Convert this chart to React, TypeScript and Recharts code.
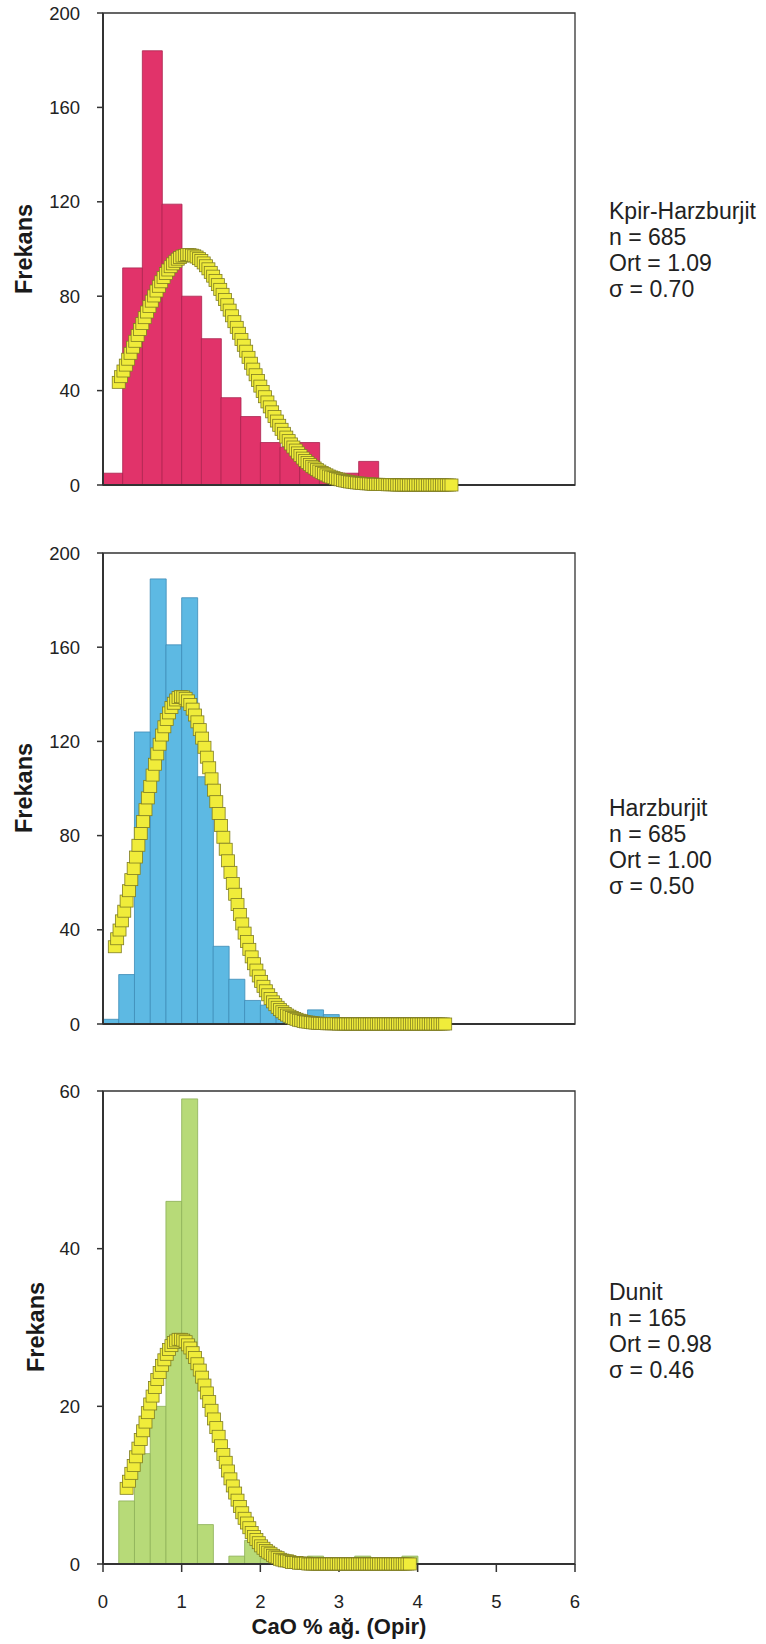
import React from 'react';
import { ComposedChart, Bar, Scatter, XAxis, YAxis, ReferenceArea } from 'recharts';

// ---------- tick labels ----------
const xTicks = [0, 1, 2, 3, 4, 5, 6];
const yTicks200 = [0, 40, 80, 120, 160, 200];
const yTicks60 = [0, 20, 40, 60];

// ---------- Kpir-Harzburjit (bin width 0.25) ----------
const kpirBins = [0.125, 0.375, 0.625, 0.875, 1.125, 1.375, 1.625, 1.875, 2.125, 2.375, 2.625, 2.875, 3.125, 3.375];
const kpirCounts = [5, 92, 184, 119, 80, 62, 37, 29, 18, 16, 18, 4, 5, 10];
const kpirCurve = [
  [0.20, 43.5], [0.23, 45.9], [0.26, 48.3], [0.29, 50.8], [0.32, 53.3], [0.35, 55.8], [0.38, 58.4], [0.41, 60.9],
  [0.44, 63.4], [0.47, 65.9], [0.50, 68.4], [0.53, 70.9], [0.56, 73.3], [0.59, 75.6], [0.62, 77.9], [0.65, 80.1],
  [0.68, 82.2], [0.71, 84.2], [0.74, 86.1], [0.77, 87.9], [0.80, 89.6], [0.83, 91.1], [0.86, 92.5], [0.89, 93.7],
  [0.92, 94.8], [0.95, 95.7], [0.98, 96.4], [1.01, 97.0], [1.04, 97.3], [1.07, 97.6], [1.10, 97.6], [1.13, 97.4],
  [1.16, 97.1], [1.19, 96.6], [1.22, 95.9], [1.25, 95.1], [1.28, 94.1], [1.31, 92.9], [1.34, 91.6], [1.37, 90.1],
  [1.40, 88.5], [1.43, 86.7], [1.46, 84.9], [1.49, 82.9], [1.52, 80.8], [1.55, 78.6], [1.58, 76.4], [1.61, 74.1],
  [1.64, 71.7], [1.67, 69.2], [1.70, 66.8], [1.73, 64.3], [1.76, 61.7], [1.79, 59.2], [1.82, 56.7], [1.85, 54.1],
  [1.88, 51.6], [1.91, 49.1], [1.94, 46.7], [1.97, 44.3], [2.00, 41.9], [2.03, 39.6], [2.06, 37.4], [2.09, 35.2],
  [2.12, 33.1], [2.15, 31.0], [2.18, 29.0], [2.21, 27.1], [2.24, 25.3], [2.27, 23.6], [2.30, 21.9], [2.33, 20.3],
  [2.36, 18.8], [2.39, 17.4], [2.42, 16.1], [2.45, 14.8], [2.48, 13.6], [2.51, 12.5], [2.54, 11.4], [2.57, 10.4],
  [2.60, 9.5], [2.63, 8.7], [2.66, 7.9], [2.69, 7.2], [2.72, 6.5], [2.75, 5.9], [2.78, 5.3], [2.81, 4.8],
  [2.84, 4.3], [2.87, 3.8], [2.90, 3.4], [2.93, 3.1], [2.96, 2.8], [2.99, 2.5], [3.02, 2.2], [3.05, 1.9],
  [3.08, 1.7], [3.11, 1.5], [3.14, 1.3], [3.17, 1.2], [3.20, 1.0], [3.23, 0.9], [3.26, 0.8], [3.29, 0.7],
  [3.32, 0.6], [3.35, 0.5], [3.38, 0.5], [3.41, 0.4], [3.44, 0.3], [3.47, 0.3], [3.50, 0.3], [3.53, 0.2],
  [3.56, 0.2], [3.59, 0.2], [3.62, 0.1], [3.65, 0.1], [3.68, 0.1], [3.71, 0.1], [3.74, 0], [3.77, 0],
  [3.80, 0], [3.83, 0], [3.86, 0], [3.89, 0], [3.92, 0], [3.95, 0], [3.98, 0], [4.01, 0],
  [4.04, 0], [4.07, 0], [4.10, 0], [4.13, 0], [4.16, 0], [4.19, 0], [4.22, 0], [4.25, 0],
  [4.28, 0], [4.31, 0], [4.34, 0], [4.37, 0], [4.40, 0], [4.43, 0],
];

// ---------- Harzburjit (bin width 0.2) ----------
const harzBins = [0.1, 0.3, 0.5, 0.7, 0.9, 1.1, 1.3, 1.5, 1.7, 1.9, 2.1, 2.3, 2.5, 2.7, 2.9];
const harzCounts = [2, 21, 124, 189, 161, 181, 105, 33, 19, 10, 8, 4, 2, 6, 4];
const harzCurve = [
  [0.15, 32.8], [0.18, 36.2], [0.21, 39.9], [0.24, 43.8], [0.27, 47.9], [0.30, 52.2], [0.33, 56.6], [0.36, 61.3],
  [0.39, 66.0], [0.42, 70.9], [0.45, 75.9], [0.48, 80.9], [0.51, 86.0], [0.54, 91.0], [0.57, 96.0], [0.60, 100.9],
  [0.63, 105.7], [0.66, 110.3], [0.69, 114.7], [0.72, 118.8], [0.75, 122.7], [0.78, 126.2], [0.81, 129.3], [0.84, 132.1],
  [0.87, 134.4], [0.90, 136.2], [0.93, 137.6], [0.96, 138.6], [0.99, 139.0], [1.02, 138.9], [1.05, 138.3], [1.08, 137.2],
  [1.11, 135.7], [1.14, 133.7], [1.17, 131.2], [1.20, 128.3], [1.23, 125.0], [1.26, 121.4], [1.29, 117.5], [1.32, 113.3],
  [1.35, 108.8], [1.38, 104.1], [1.41, 99.3], [1.44, 94.4], [1.47, 89.4], [1.50, 84.3], [1.53, 79.3], [1.56, 74.2],
  [1.59, 69.3], [1.62, 64.4], [1.65, 59.7], [1.68, 55.1], [1.71, 50.7], [1.74, 46.5], [1.77, 42.5], [1.80, 38.6],
  [1.83, 35.0], [1.86, 31.7], [1.89, 28.5], [1.92, 25.6], [1.95, 22.9], [1.98, 20.4], [2.01, 18.1], [2.04, 16.0],
  [2.07, 14.1], [2.10, 12.4], [2.13, 10.8], [2.16, 9.4], [2.19, 8.2], [2.22, 7.1], [2.25, 6.1], [2.28, 5.2],
  [2.31, 4.5], [2.34, 3.8], [2.37, 3.3], [2.40, 2.8], [2.43, 2.3], [2.46, 2.0], [2.49, 1.6], [2.52, 1.4],
  [2.55, 1.1], [2.58, 0.9], [2.61, 0.8], [2.64, 0.6], [2.67, 0.5], [2.70, 0.4], [2.73, 0.3], [2.76, 0.3],
  [2.79, 0.2], [2.82, 0.2], [2.85, 0.1], [2.88, 0.1], [2.91, 0.1], [2.94, 0.1], [2.97, 0.1], [3.00, 0],
  [3.03, 0], [3.06, 0], [3.09, 0], [3.12, 0], [3.15, 0], [3.18, 0], [3.21, 0], [3.24, 0],
  [3.27, 0], [3.30, 0], [3.33, 0], [3.36, 0], [3.39, 0], [3.42, 0], [3.45, 0], [3.48, 0],
  [3.51, 0], [3.54, 0], [3.57, 0], [3.60, 0], [3.63, 0], [3.66, 0], [3.69, 0], [3.72, 0],
  [3.75, 0], [3.78, 0], [3.81, 0], [3.84, 0], [3.87, 0], [3.90, 0], [3.93, 0], [3.96, 0],
  [3.99, 0], [4.02, 0], [4.05, 0], [4.08, 0], [4.11, 0], [4.14, 0], [4.17, 0], [4.20, 0],
  [4.23, 0], [4.26, 0], [4.29, 0], [4.32, 0], [4.35, 0],
];

// ---------- Dunit (bin width 0.2) ----------
const dunitBins = [0.1, 0.3, 0.5, 0.7, 0.9, 1.1, 1.3, 1.5, 1.7, 1.9, 2.1, 2.3, 2.5, 2.7, 2.9, 3.1, 3.3, 3.5, 3.7, 3.9];
const dunitCounts = [0, 8, 14, 20, 46, 59, 5, 0, 1, 3, 1, 0, 0, 1, 0, 0, 1, 0, 0, 1];
const dunitCurve = [
  [0.30, 9.6], [0.33, 10.5], [0.36, 11.5], [0.39, 12.5], [0.42, 13.6], [0.45, 14.7], [0.48, 15.8], [0.51, 16.9],
  [0.54, 18.0], [0.57, 19.2], [0.60, 20.3], [0.63, 21.3], [0.66, 22.4], [0.69, 23.4], [0.72, 24.3], [0.75, 25.2],
  [0.78, 25.9], [0.81, 26.6], [0.84, 27.2], [0.87, 27.7], [0.90, 28.1], [0.93, 28.3], [0.96, 28.5], [0.99, 28.5],
  [1.02, 28.4], [1.05, 28.2], [1.08, 27.8], [1.11, 27.4], [1.14, 26.8], [1.17, 26.2], [1.20, 25.4], [1.23, 24.6],
  [1.26, 23.7], [1.29, 22.7], [1.32, 21.7], [1.35, 20.6], [1.38, 19.5], [1.41, 18.4], [1.44, 17.3], [1.47, 16.2],
  [1.50, 15.0], [1.53, 13.9], [1.56, 12.9], [1.59, 11.8], [1.62, 10.8], [1.65, 9.9], [1.68, 9.0], [1.71, 8.1],
  [1.74, 7.3], [1.77, 6.5], [1.80, 5.8], [1.83, 5.2], [1.86, 4.6], [1.89, 4.0], [1.92, 3.5], [1.95, 3.1],
  [1.98, 2.7], [2.01, 2.3], [2.04, 2.0], [2.07, 1.7], [2.10, 1.5], [2.13, 1.3], [2.16, 1.1], [2.19, 0.9],
  [2.22, 0.8], [2.25, 0.6], [2.28, 0.5], [2.31, 0.4], [2.34, 0.4], [2.37, 0.3], [2.40, 0.2], [2.43, 0.2],
  [2.46, 0.2], [2.49, 0.1], [2.52, 0.1], [2.55, 0.1], [2.58, 0.1], [2.61, 0], [2.64, 0], [2.67, 0],
  [2.70, 0], [2.73, 0], [2.76, 0], [2.79, 0], [2.82, 0], [2.85, 0], [2.88, 0], [2.91, 0],
  [2.94, 0], [2.97, 0], [3.00, 0], [3.03, 0], [3.06, 0], [3.09, 0], [3.12, 0], [3.15, 0],
  [3.18, 0], [3.21, 0], [3.24, 0], [3.27, 0], [3.30, 0], [3.33, 0], [3.36, 0], [3.39, 0],
  [3.42, 0], [3.45, 0], [3.48, 0], [3.51, 0], [3.54, 0], [3.57, 0], [3.60, 0], [3.63, 0],
  [3.66, 0], [3.69, 0], [3.72, 0], [3.75, 0], [3.78, 0], [3.81, 0], [3.84, 0], [3.87, 0], [3.90, 0],
];

const kpirLines = ['Kpir-Harzburjit', 'n = 685', 'Ort = 1.09', 'σ = 0.70'];
const harzLines = ['Harzburjit', 'n = 685', 'Ort = 1.00', 'σ = 0.50'];
const dunitLines = ['Dunit', 'n = 165', 'Ort = 0.98', 'σ = 0.46'];

const yLabel = 'Frekans';
const xLabel = 'CaO % ağ. (Opir)';

const FONT = "'Liberation Sans', Arial, Helvetica, sans-serif";
const AXIS = '#333333';

const Marker = (props: any) => {
  const { cx, cy } = props;
  if (cx == null || cy == null || isNaN(cx) || isNaN(cy)) return null;
  return (
    <rect x={cx - 6.5} y={cy - 6} width={13} height={12} fill="#F0EC3A" stroke="#7F7D22" strokeWidth={0.8} />
  );
};

type PanelProps = {
  bins: number[];
  counts: number[];
  curve: number[][];
  yMax: number;
  yTicks: number[];
  fill: string;
  stroke: string;
  showX: boolean;
  height: number;
  marginTop: number;
  xAxisHeight: number;
};

function Panel(p: PanelProps) {
  const barData = p.bins.map((b, i) => ({ x: b, count: p.counts[i] }));
  const curveData = p.curve.map(([x, y]) => ({ x, y }));
  return (
    <ComposedChart
      width={766}
      height={p.height}
      data={barData}
      margin={{ top: p.marginTop, right: 191, left: 0, bottom: 0 }}
      barCategoryGap={0}
      barGap={0}
    >
      <XAxis
        type="number"
        dataKey="x"
        domain={[0, 6]}
        ticks={xTicks}
        height={p.xAxisHeight}
        axisLine={{ stroke: AXIS, strokeWidth: 2 }}
        tickLine={p.showX ? { stroke: AXIS, strokeWidth: 1.5 } : false}
        tick={p.showX ? { fontSize: 18.5, fill: '#222', fontFamily: FONT } : false}
        tickSize={8}
        tickMargin={23}
        interval={0}
      />
      <XAxis xAxisId="curve" type="number" dataKey="x" domain={[0, 6]} hide />
      <YAxis
        type="number"
        domain={[0, p.yMax]}
        ticks={p.yTicks}
        width={103}
        axisLine={{ stroke: AXIS, strokeWidth: 2 }}
        tickLine={{ stroke: AXIS, strokeWidth: 1.5 }}
        tick={{ fontSize: 18.5, fill: '#222', fontFamily: FONT }}
        tickSize={6}
        tickMargin={17}
        interval={0}
      />
      <ReferenceArea x1={0} x2={6} y1={0} y2={p.yMax} fill="none" stroke={AXIS} strokeWidth={1.3} />
      <Bar dataKey="count" fill={p.fill} stroke={p.stroke} strokeWidth={0.8} isAnimationActive={false} />
      <Scatter
        xAxisId="curve"
        data={curveData}
        dataKey="y"
        shape={Marker}
        isAnimationActive={false}
      />
    </ComposedChart>
  );
}

const Stats = ({ lines, top }: { lines: string[]; top: number }) => (
  <div
    style={{
      position: 'absolute',
      left: 609,
      top,
      fontFamily: FONT,
      fontSize: 23,
      lineHeight: '26px',
      color: '#222',
      whiteSpace: 'nowrap',
    }}
  >
    {lines.map((l, i) => (
      <div key={i}>{l}</div>
    ))}
  </div>
);

const VLabel = ({ cx, cy }: { cx: number; cy: number }) => (
  <div
    style={{
      position: 'absolute',
      left: cx,
      top: cy,
      transform: 'translate(-50%, -50%) rotate(-90deg)',
      fontFamily: FONT,
      fontWeight: 'bold',
      fontSize: 23.5,
      color: '#1a1a1a',
      whiteSpace: 'nowrap',
      lineHeight: '26px',
    }}
  >
    {yLabel}
  </div>
);

export default function App() {
  return (
    <div
      style={{
        position: 'absolute',
        left: 0,
        top: 0,
        width: 766,
        height: 1644,
        background: '#ffffff',
        fontFamily: FONT,
        overflow: 'hidden',
      }}
    >
      <div style={{ position: 'absolute', left: 0, top: 0 }}>
        <Panel
          bins={kpirBins}
          counts={kpirCounts}
          curve={kpirCurve}
          yMax={200}
          yTicks={yTicks200}
          fill="#E1336A"
          stroke="#A9254F"
          showX={false}
          height={500}
          marginTop={13}
          xAxisHeight={15}
        />
      </div>
      <div style={{ position: 'absolute', left: 0, top: 540 }}>
        <Panel
          bins={harzBins}
          counts={harzCounts}
          curve={harzCurve}
          yMax={200}
          yTicks={yTicks200}
          fill="#5DB9E3"
          stroke="#3E8CB6"
          showX={false}
          height={500}
          marginTop={13}
          xAxisHeight={16}
        />
      </div>
      <div style={{ position: 'absolute', left: 0, top: 1080 }}>
        <Panel
          bins={dunitBins}
          counts={dunitCounts}
          curve={dunitCurve}
          yMax={60}
          yTicks={yTicks60}
          fill="#B7DA78"
          stroke="#8DB058"
          showX={true}
          height={540}
          marginTop={11}
          xAxisHeight={56}
        />
      </div>

      <VLabel cx={24} cy={249} />
      <VLabel cx={24} cy={788} />
      <VLabel cx={36} cy={1327} />

      <Stats lines={kpirLines} top={198} />
      <Stats lines={harzLines} top={795} />
      <Stats lines={dunitLines} top={1279} />

      <div
        style={{
          position: 'absolute',
          left: 339,
          top: 1627,
          transform: 'translate(-50%, -50%)',
          fontFamily: FONT,
          fontWeight: 'bold',
          fontSize: 22,
          color: '#1a1a1a',
          whiteSpace: 'nowrap',
          lineHeight: '26px',
        }}
      >
        {xLabel}
      </div>
    </div>
  );
}
